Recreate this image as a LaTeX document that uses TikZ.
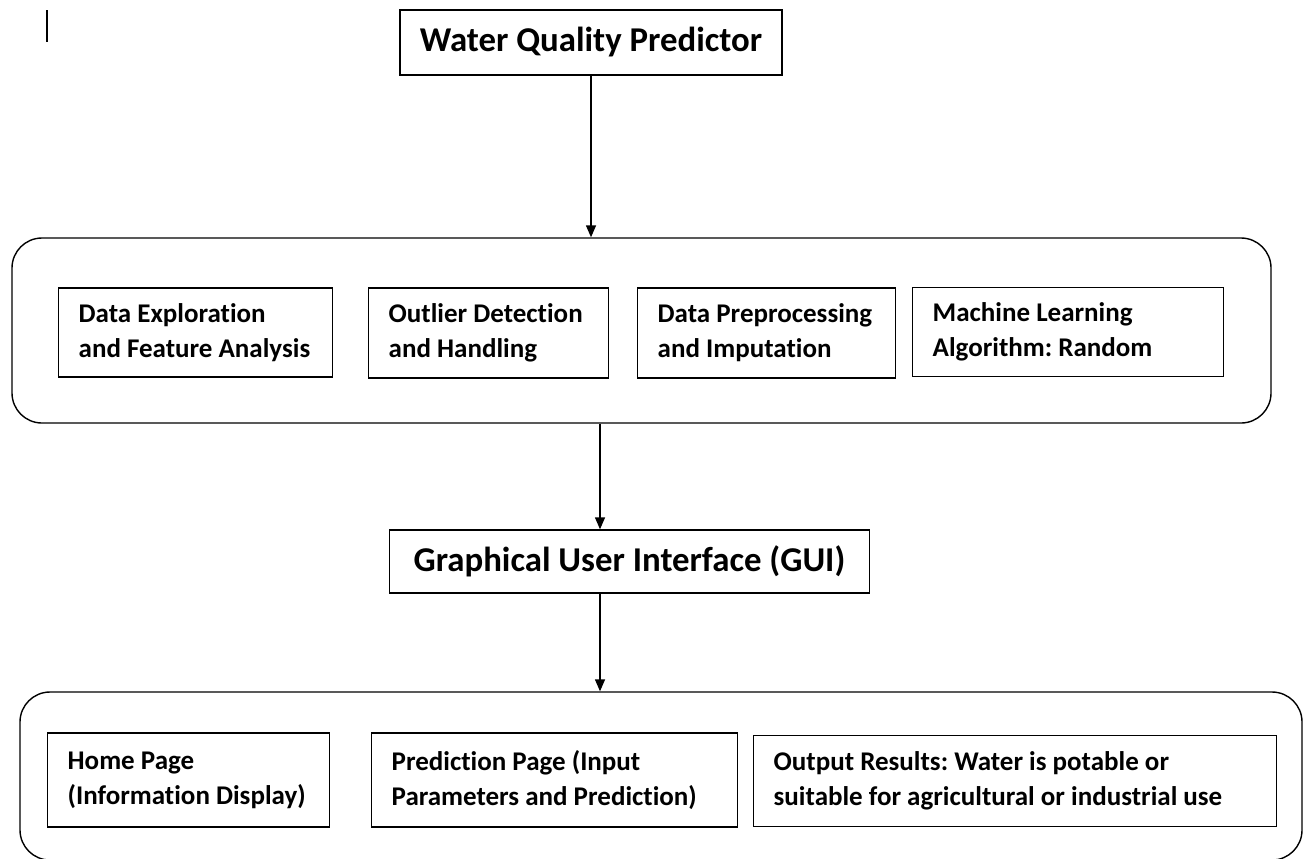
\documentclass[tikz,border=0pt]{standalone}
\usepackage{fontspec}
\setmainfont{Carlito}[Ligatures=NoCommon]
\usetikzlibrary{arrows.meta}
\frenchspacing
\begin{document}
\begin{tikzpicture}[x=0.5pt,y=-0.5pt,
	stage/.style={draw,line width=0.7pt,anchor=west,align=flush left,inner xsep=10pt,
		font=\fontsize{13.5}{17.5}\selectfont\bfseries},
	head/.style={draw,line width=0.7pt,inner sep=0pt,font=\fontsize{17.4}{19}\selectfont\bfseries},
	group/.style={draw,line width=0.7pt,rounded corners=15pt,inner sep=0pt},
	flow/.style={-{Triangle[length=6pt,width=5pt]},line width=0.7pt}]
\useasboundingbox (0,0) rectangle (1304,858);
\clip (0,0) rectangle (1304,858);
% cursor mark
\draw[line width=0.8pt] (47,10) -- (47,42);
% top
\node[head,minimum width=191pt,minimum height=32.5pt] (predictor) at (591,42.5) {Water Quality Predictor};
% model pipeline
\node[group,minimum width=629.5pt,minimum height=92.5pt] (pipeline) at (641.5,330.5) {};
\node[stage,text width=117pt,minimum height=44.5pt] (explore) at (58,332.5) {Data Exploration\\\mbox{and Feature Analysis}};
\node[stage,text width=100pt,minimum height=45pt] (outlier) at (368,333) {\mbox{Outlier Detection}\\and Handling};
\node[stage,text width=109pt,minimum height=45pt] (impute) at (637,333) {\mbox{Data Preprocessing}\\and Imputation};
\node[stage,text width=135.5pt,minimum height=44.5pt] (forest) at (912,332) {Machine Learning\\Algorithm: Random};
% gui
\node[head,minimum width=240pt,minimum height=31.5pt] (gui) at (629.5,561.5) {Graphical User Interface (GUI)};
% pages
\node[group,minimum width=641pt,minimum height=84pt] (pages) at (661,776) {};
\node[stage,text width=121pt,minimum height=47pt] (home) at (47,780) {Home Page\\\mbox{(Information Display)}};
\node[stage,text width=163pt,minimum height=47pt] (predict) at (371,780) {Prediction Page (Input\\Parameters and Prediction)};
\node[stage,text width=241.5pt,minimum height=45.5pt] (result) at (753,781) {Output Results: Water is potable or\\\mbox{suitable for agricultural or industrial use}};
% arrows
\coordinate (spine) at (600,0);
\draw[flow] (predictor.south) -- (predictor.south |- pipeline.north);
\draw[flow] (pipeline.south -| spine) -- (gui.north -| spine);
\draw[flow] (gui.south -| spine) -- (pages.north -| spine);
\end{tikzpicture}
\end{document}
